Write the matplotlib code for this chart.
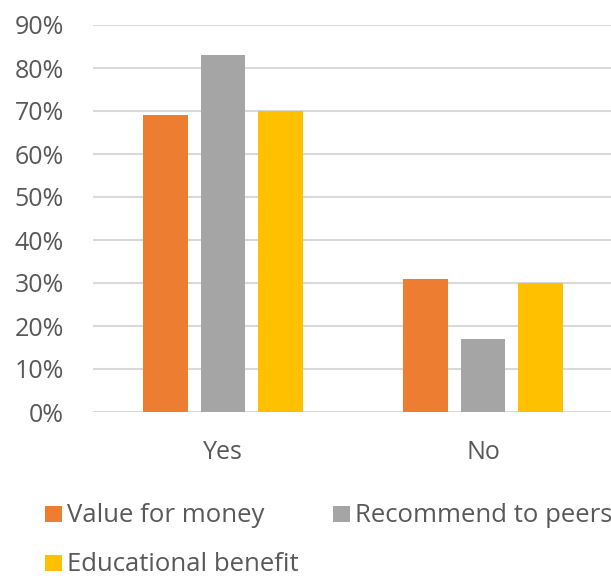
import matplotlib
matplotlib.use("Agg")
import matplotlib.pyplot as plt
import numpy as np
from matplotlib.patches import Rectangle

categories = ["Yes", "No"]
series_names = ["Value for money", "Recommend to peers", "Educational benefit"]
value_for_money = [0.69, 0.31]
recommend_to_peers = [0.83, 0.17]
educational_benefit = [0.70, 0.30]
yticks = [0.0, 0.1, 0.2, 0.3, 0.4, 0.5, 0.6, 0.7, 0.8, 0.9]
ytick_labels = ["0%", "10%", "20%", "30%", "40%", "50%", "60%", "70%", "80%", "90%"]

colors = ["#ED7D31", "#A5A5A5", "#FFC000"]
text_color = "#595959"
plt.rcParams['font.family'] = ['Open Sans', 'DejaVu Sans']

W, H = 611, 579
fig = plt.figure(figsize=(W / 100, H / 100), dpi=100)
ax = fig.add_axes([93 / W, 167 / H, 520 / W, (554 - 167) / H])

x = np.arange(len(categories))
width = 0.173
step = 0.221
all_vals = [value_for_money, recommend_to_peers, educational_benefit]
for i, (vals, c) in enumerate(zip(all_vals, colors)):
    ax.bar(x + (i - 1) * step, vals, width, color=c, zorder=3, label=series_names[i])

ax.set_xlim(-0.5, 1.5)
ax.set_ylim(0, 0.9)
ax.set_yticks(yticks)
ax.set_yticklabels(ytick_labels)
ax.set_xticks(x)
ax.set_xticklabels(categories)
ax.grid(axis='y', color="#D9D9D9", linewidth=1.5, zorder=0)
ax.set_axisbelow(True)
for s in ax.spines.values():
    s.set_visible(False)
ax.tick_params(axis='both', length=0, labelsize=18, colors=text_color)
ax.tick_params(axis='y', pad=21)
ax.tick_params(axis='x', pad=20)

# Legend drawn manually in figure pixel coordinates (two rows, Excel style)
legend_slots = [(45, 522), (333, 522), (45, 571)]  # (square left, text baseline) in px from top-left
for name, c, (lx, base) in zip(series_names, colors, legend_slots):
    fig.patches.append(Rectangle((lx / W, 1 - base / H), 17 / W, 16 / H,
                                 transform=fig.transFigure, facecolor=c, edgecolor='none'))
    fig.text((lx + 22) / W, 1 - base / H, name, fontsize=18.5, color=text_color,
             ha='left', va='baseline')

fig.savefig("out.png", dpi=100)
